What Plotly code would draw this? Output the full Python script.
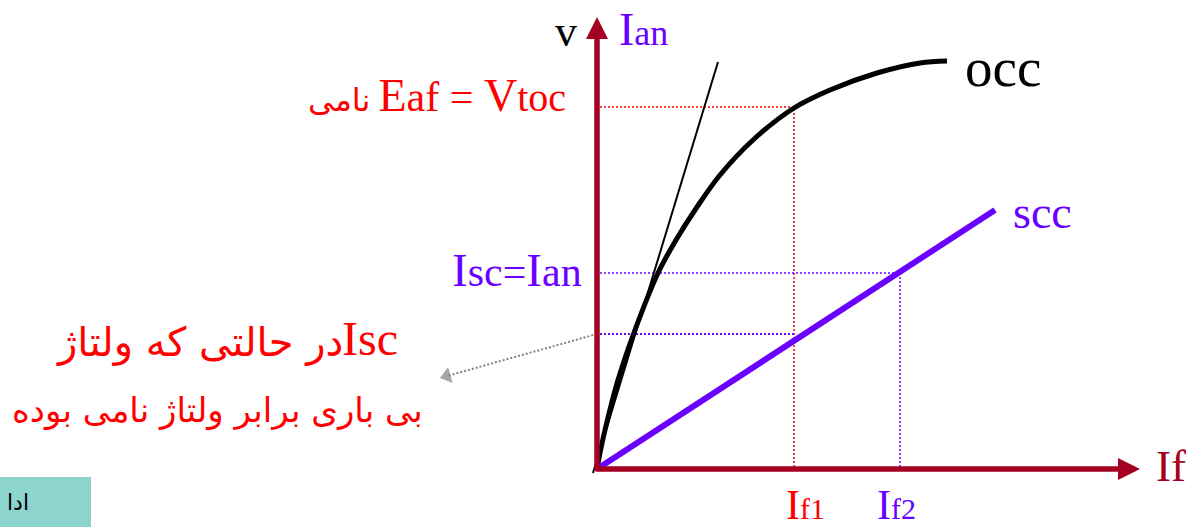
import plotly.graph_objects as go

# ---- data (units measured from the axes origin) ----
occ_if = [0, 2, 8, 21, 38, 61, 79, 100, 123, 156, 197, 233, 280, 323, 350]
occ_v = [0, 11, 39, 89, 139, 196, 229, 262, 294, 329, 361, 379, 396, 406, 408]
tangent_if = [-4, 121]
tangent_v = [-4, 407]
scc_if = [0, 398]
scc_v = [0, 259]
if1 = 197
if2 = 303
eaf_level = 362
isc_level = 196
isc_rated_v = 135
v_axis_top = 452
if_axis_end = 543

AXIS = "#A50021"
PURPLE = "#6A00FF"
RED = "#FF0000"
SERIF = "Liberation Serif, Times New Roman, DejaVu Sans, serif"
ARAB = "DejaVu Sans, Noto Sans, sans-serif"

fig = go.Figure()

# dotted guides
fig.add_trace(go.Scatter(x=[3, if1, if1], y=[eaf_level, eaf_level, 0], mode="lines",
                         line=dict(color=RED, width=1.5, dash="2px,2px"), hoverinfo="skip"))
fig.add_trace(go.Scatter(x=[3, if2, if2], y=[isc_level, isc_level, 0], mode="lines",
                         line=dict(color=PURPLE, width=1.5, dash="2px,2px"), hoverinfo="skip"))
fig.add_trace(go.Scatter(x=[3, if1], y=[isc_rated_v, isc_rated_v], mode="lines",
                         line=dict(color=PURPLE, width=2, dash="2px,2px"), hoverinfo="skip"))

# gray dotted pointer
fig.add_trace(go.Scatter(x=[0, -150], y=[isc_rated_v, 93], mode="lines+markers",
                         line=dict(color="#808080", width=2, dash="2px,2px"),
                         marker=dict(symbol="triangle-up", size=[0, 16], color="#808080",
                                     angleref="previous"),
                         hoverinfo="skip"))

# curves
fig.add_trace(go.Scatter(x=tangent_if, y=tangent_v, mode="lines",
                         line=dict(color="black", width=2), hoverinfo="skip"))
fig.add_trace(go.Scatter(x=occ_if, y=occ_v, mode="lines",
                         line=dict(color="black", width=5, shape="spline", smoothing=1.0),
                         hoverinfo="skip"))
fig.add_trace(go.Scatter(x=scc_if, y=scc_v, mode="lines",
                         line=dict(color=PURPLE, width=6), hoverinfo="skip"))

ann = []
# axes arrows
ann.append(dict(x=0, y=v_axis_top, ax=0, ay=-3, xref="x", yref="y", axref="x", ayref="y",
                showarrow=True, arrowhead=2, arrowsize=0.8, arrowwidth=5.5, arrowcolor=AXIS, text=""))
ann.append(dict(x=if_axis_end, y=0, ax=-3, ay=0, xref="x", yref="y", axref="x", ayref="y",
                showarrow=True, arrowhead=2, arrowsize=0.8, arrowwidth=5.5, arrowcolor=AXIS, text=""))


def label(x, y, text, size, color, xanchor="left", family=SERIF):
    ann.append(dict(x=x, y=y, xref="x", yref="y", text=text, showarrow=False,
                    xanchor=xanchor, yanchor="middle",
                    font=dict(family=family, size=size, color=color)))


label(-18, 438, "v", 44, "black", xanchor="right")
label(20, 440, "<span style='font-size:46px'>I</span>an", 36, PURPLE)
label(366, 402, "occ", 55, "black")
label(414, 257, "scc", 46, PURPLE)
label(-29, 374,
      "نامی <span style='font-size:46px'>E</span><span style='font-size:42px'>af = </span>"
      "<span style='font-size:46px'>V</span><span style='font-size:40px'>toc</span>",
      32, RED, xanchor="right")
label(-13, 199,
      "<span style='font-size:47px'>I</span>sc=<span style='font-size:47px'>I</span>an",
      42, PURPLE, xanchor="right")
label(557, 3, "If", 45, AXIS)
label(187, -36, "<span style='font-size:42px'>I</span>f1", 30, RED)
label(278, -36, "<span style='font-size:42px'>I</span>f2", 30, PURPLE)
label(-197, 131, "Isc", 48, RED, xanchor="right")
label(-252, 127, "در حالتی که ولتاژ", 40, RED, xanchor="right", family=ARAB)
label(-380, 59, "بی باری برابر ولتاژ نامی بوده", 34, RED, xanchor="center", family=ARAB)
label(-566, -33, "ادا", 22, "black", xanchor="right", family=ARAB)

fig.update_layout(
    width=1186, height=529,
    margin=dict(l=0, r=0, t=0, b=0),
    paper_bgcolor="white", plot_bgcolor="white",
    showlegend=False,
    xaxis=dict(range=[-597, 589], visible=False, fixedrange=True),
    yaxis=dict(range=[-60, 469], visible=False, fixedrange=True),
    annotations=ann,
    shapes=[dict(type="rect", xref="x", yref="y", x0=-597, x1=-506, y0=-58, y1=-8,
                 fillcolor="#8DD4CF", line=dict(width=0), layer="below")],
)

fig.write_html("out.html", config={"displayModeBar": False},
               post_script="document.body.style.margin='0';document.body.style.overflow='hidden';")
